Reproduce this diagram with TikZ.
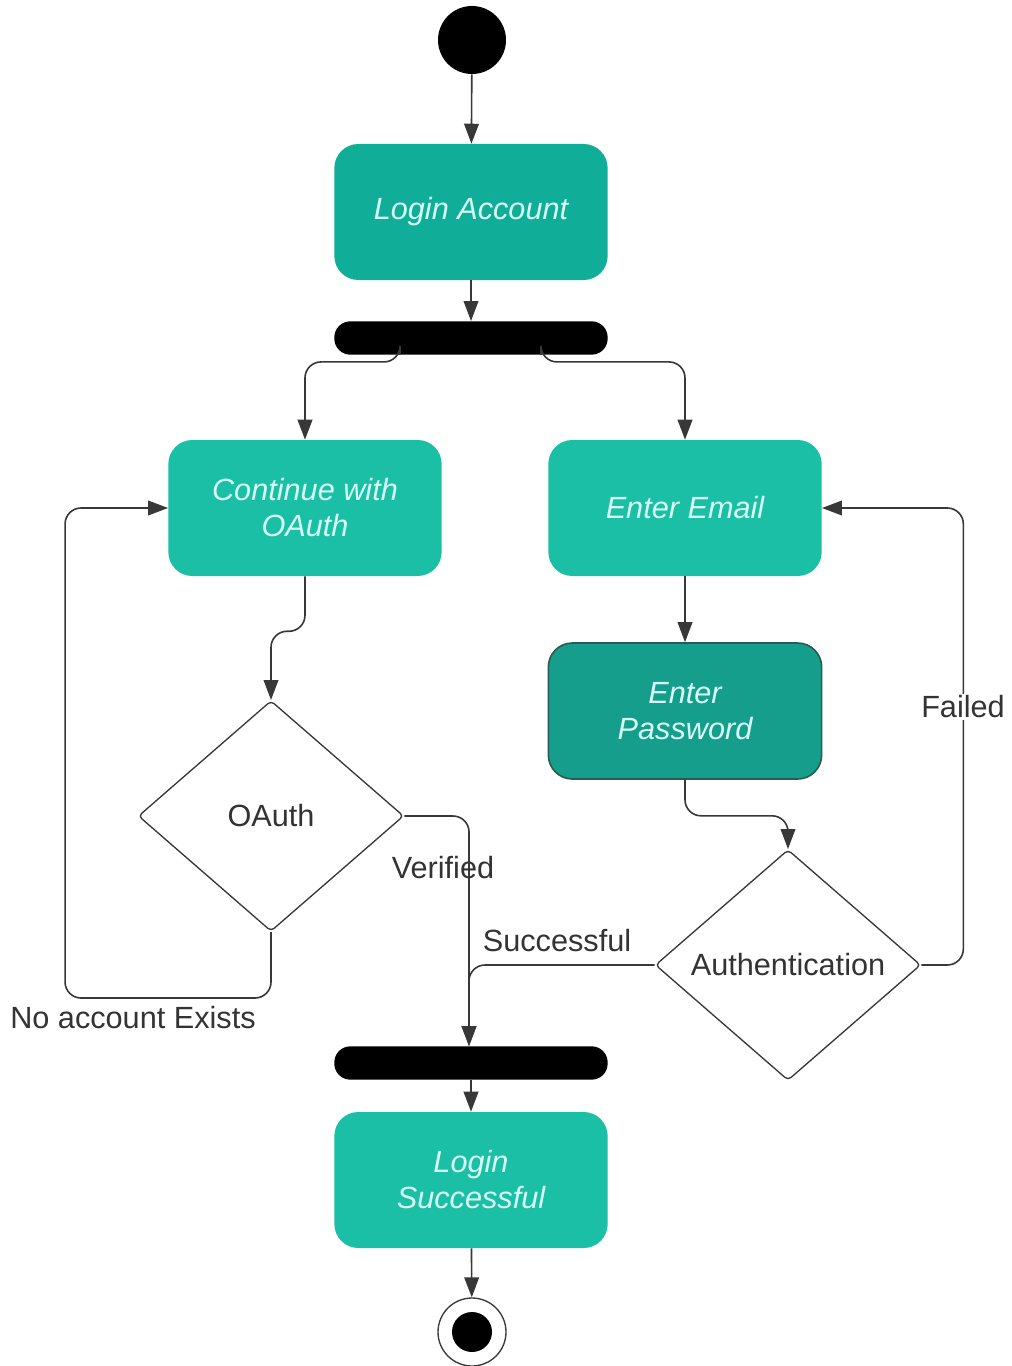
\documentclass[tikz,border=0pt]{standalone}
\usepackage{fontspec}
\setmainfont{Liberation Sans}
\usetikzlibrary{shapes.geometric,arrows.meta,calc}
\definecolor{tealA}{HTML}{1BBFA5}
\definecolor{tealB}{HTML}{10AE98}
\definecolor{tealC}{HTML}{149E8B}
\definecolor{tealEdge}{HTML}{2B5A53}
\definecolor{actText}{HTML}{D8FFF6}
\definecolor{wire}{HTML}{383838}
\begin{document}
\begin{tikzpicture}[x=0.75pt,y=-0.75pt,
  activity/.style={rectangle, rounded corners=18pt, fill=tealA, text=actText,
    minimum width=205pt, minimum height=102pt, align=center,
    font=\fontsize{23}{27}\selectfont\itshape},
  decision/.style={diamond, draw=wire, line width=1pt, fill=white, rounded corners=3pt,
    inner sep=0pt, minimum width=199pt, minimum height=173pt,
    font=\fontsize{23}{27}\selectfont, text=black!80},
  bar/.style={rectangle, rounded corners=12pt, fill=black,
    minimum width=205pt, minimum height=25pt, inner sep=0pt},
  arr/.style={draw=wire, line width=1.2pt, -{Triangle[length=15pt,width=11pt]}},
  lbl/.style={font=\fontsize{23}{27}\selectfont, text=black!80, inner sep=1pt}
]
\useasboundingbox (0,0) rectangle (1011,1366);

% nodes
\node[circle, fill=black, minimum size=51pt, inner sep=0pt] (start) at (472,40) {};
\node[activity, fill=tealB] (login) at (471,212) {Login Account};
\node[bar] (fork) at (471,338) {};
\node[activity] (cont) at (305,508) {Continue with\\OAuth};
\node[activity] (email) at (685,508) {Enter Email};
\node[activity, fill=tealC, draw=tealEdge, line width=1.2pt] (pwd) at (685,711) {Enter\\Password};
\node[decision] (oauth) at (271,816) {OAuth};
\node[decision] (auth) at (788,965) {Authentication};
\node[bar] (join) at (471,1063) {};
\node[activity] (succ) at (471,1180) {Login\\Successful};
\node[circle, draw=wire, line width=1pt, fill=white, minimum size=51pt, inner sep=0pt] (final) at (472,1332) {};
\node[circle, fill=black, minimum size=30pt, inner sep=0pt] at (final) {};

% connectors
\draw[arr] (start) -- (login);
\draw[arr] (login) -- (fork);
\draw[arr, rounded corners=12pt] ($(fork.south)+(-71,0)$) -- ++(0,7) -| (cont.north);
\draw[arr, rounded corners=12pt] ($(fork.south)+(70,0)$) -- ++(0,7) -| (email.north);
\draw[arr, rounded corners=12pt] (cont.south) -- ++(0,55) -| (oauth.north);
\draw[arr] (email) -- (pwd);
\draw[arr, rounded corners=12pt] (pwd.south) -- ++(0,36) -| (auth.north);
\draw[arr, rounded corners=12pt] (auth.east) -- ++(42,0) coordinate (fr)
  -- (fr |- email.east) -- (email.east);
\node[lbl, fill=white] (failed) at (963,707) {Failed};
\draw[arr, rounded corners=12pt] (oauth.east) -| (join.north -| 469,0);
\node[lbl] (verified) at (443,868) {Verified};
\draw[arr, rounded corners=12pt] (auth.west) -| (join.north -| 469,0);
\node[lbl] (successful) at (557,941) {Successful};
\draw[arr, rounded corners=12pt] (oauth.south) -- ++(0,66) -| ($(cont.west)+(-103,0)$) -- (cont.west);
\node[lbl] (noacc) at (133,1018) {No account Exists};
\draw[arr] (join) -- (succ);
\draw[arr] (succ) -- (final);
\end{tikzpicture}
\end{document}
